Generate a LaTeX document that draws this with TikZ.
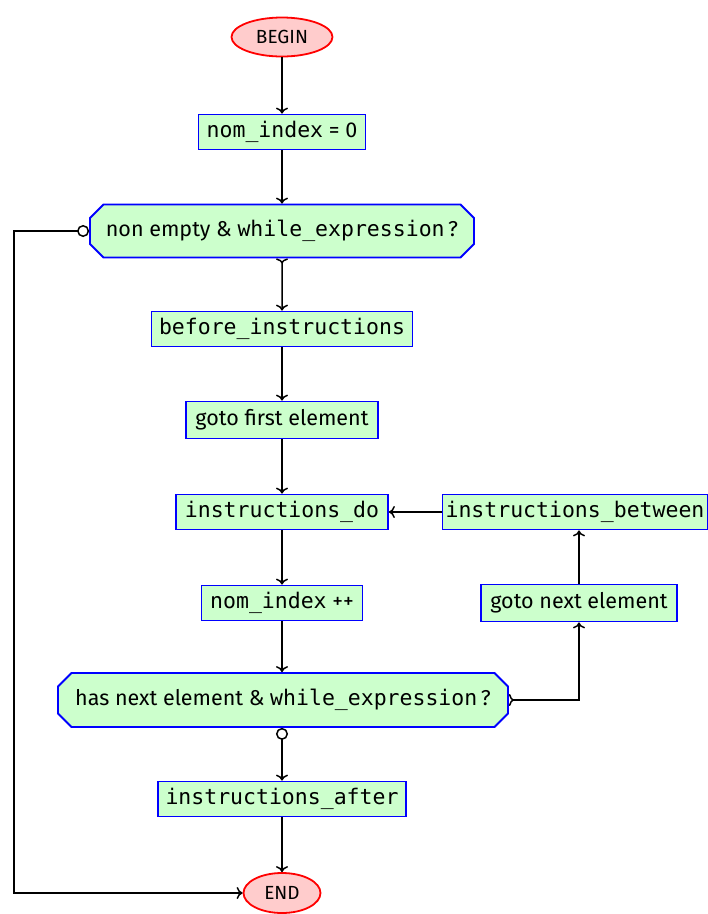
\documentclass[tikz,border=0pt]{standalone}
\usepackage{fontspec}
\setmainfont{Fira Sans}
\setmonofont{DejaVu Sans Mono}
\usetikzlibrary{shapes.geometric,shapes.misc,arrows.meta}
\tikzset{
  base/.style={line width=1.8pt, inner xsep=3pt, inner ysep=0pt, text height=15pt, text depth=5pt, font=\fontsize{21.5pt}{25pt}\selectfont},
  proc/.style={base, rectangle, draw=blue, fill=green!20, minimum height=35pt},
  dec/.style={base, chamfered rectangle, chamfered rectangle angle=45, chamfered rectangle xsep=16pt, draw=blue, fill=green!20, minimum height=53pt},
  term/.style={base, ellipse, draw=red, fill=red!20, inner xsep=0pt, font=\fontsize{19pt}{22pt}\selectfont, text height=13pt, text depth=1pt},
  conn/.style={line width=1.5pt, -{To[length=6pt,width=12pt]}},
  yconn/.style={line width=1.5pt, {To[reversed,length=5pt,width=12pt]}-{To[length=6pt,width=12pt]}},
  oconn/.style={line width=1.5pt, {Circle[open,length=12pt]}-{To[length=6pt,width=12pt]}}
}
\begin{document}
\begin{tikzpicture}[x=1pt,y=-1pt]
\useasboundingbox (0,0) rectangle (708,914);
\node[term, minimum width=101pt, minimum height=39pt] (begin) at (282,37) {BEGIN};
\node[proc, minimum width=167pt] (n0) at (282,132) {\texttt{nom\_index} = 0};
\node[dec, minimum width=384pt] (d1) at (282,231) {non empty \& \texttt{while\_expression}\,?};
\node[proc, minimum width=261pt] (before) at (282,329) {\texttt{before\_instructions}};
\node[proc, minimum width=192pt, minimum height=37pt] (gf) at (282,420) {goto first element};
\node[proc, minimum width=212pt] (ido) at (282,512) {\texttt{instructions\_do}};
\node[proc, minimum width=264pt] (ib) at (575,512) {\texttt{instructions\_between}};
\node[proc, minimum width=161pt] (npp) at (282,603) {\texttt{nom\_index} ++};
\node[proc, minimum width=196pt, minimum height=37pt] (gn) at (579,603) {goto next element};
\node[dec, minimum width=450pt, minimum height=54pt] (d2) at (283,700) {has next element \& \texttt{while\_expression}\,?};
\node[proc, minimum width=248pt] (after) at (282,799) {\texttt{instructions\_after}};
\node[term, minimum width=77pt, minimum height=40pt] (end) at (282,893) {END};
\coordinate (lx) at (14,231);

\draw[conn] (begin) -- (n0);
\draw[conn] (n0) -- (d1);
\draw[yconn] (d1) -- (before);
\draw[conn] (before) -- (gf);
\draw[conn] (gf) -- (ido);
\draw[conn] (ido) -- (npp);
\draw[conn] (npp) -- (npp |- d2.north);
\draw[oconn] (after |- d2.south) -- (after);
\draw[conn] (after) -- (end);
\draw[yconn] (d2.east) -| (gn.south);
\draw[conn] (gn.north) -- (gn.north |- ib.south);
\draw[conn] (ib) -- (ido);
\draw[oconn] (d1.west) -- (lx) |- (end);
\end{tikzpicture}
\end{document}
